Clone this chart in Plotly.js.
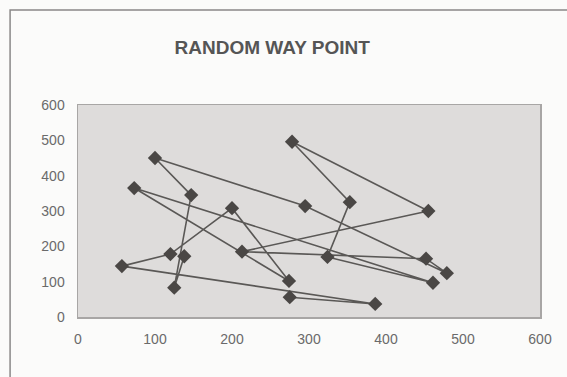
<!DOCTYPE html>
<html>
<head>
<meta charset="utf-8">
<script src="https://cdn.plot.ly/plotly-3.0.1.min.js"></script>
<style>
html,body{margin:0;padding:0;background:#fbfbfa;}
#chart{width:567px;height:377px;}
</style>
</head>
<body>
<div id="chart"></div>
<script>
// Random way point path (x, y) in visiting order
var wayX = [138, 125, 147, 100, 295, 479, 452, 213, 455, 278, 353, 324, 461, 73, 274, 200, 120, 57, 386, 275];
var wayY = [172, 83, 345, 450, 314, 124, 165, 185, 300, 496, 325, 170, 97, 365, 102, 308, 178, 144, 37, 56];
var tickVals = [0, 100, 200, 300, 400, 500, 600];
var chartTitle = "RANDOM WAY POINT";

var trace = {
  x: wayX,
  y: wayY,
  type: 'scatter',
  mode: 'lines+markers',
  line: {color: '#5a5856', width: 1.6},
  marker: {symbol: 'diamond', size: 11, color: '#4a4745'},
  hoverinfo: 'x+y',
  showlegend: false
};

var axisFont = {family: 'Liberation Sans, Arial, sans-serif', size: 14, color: '#6a6a6a'};

var layout = {
  width: 567,
  height: 377,
  margin: {l: 78, r: 27, t: 105, b: 60},
  paper_bgcolor: '#fbfbfa',
  plot_bgcolor: '#dedcdb',
  title: {
    text: chartTitle,
    font: {family: 'Liberation Sans, Arial, sans-serif', size: 19, color: '#555555', weight: 'bold'},
    xref: 'container', x: 0.48, xanchor: 'center',
    yref: 'container', y: 0.875, yanchor: 'middle'
  },
  xaxis: {
    range: [0, 600],
    tickvals: tickVals,
    ticktext: tickVals.map(String),
    showgrid: false,
    zeroline: false,
    showline: true,
    mirror: true,
    linecolor: '#a8a6a5',
    linewidth: 1.5,
    ticks: 'outside',
    ticklen: 9,
    tickcolor: 'rgba(0,0,0,0)',
    tickfont: axisFont
  },
  yaxis: {
    range: [0, 600],
    tickvals: tickVals,
    ticktext: tickVals.map(String),
    showgrid: false,
    zeroline: false,
    showline: true,
    mirror: true,
    linecolor: '#a8a6a5',
    linewidth: 1.5,
    ticks: 'outside',
    ticklen: 9,
    tickcolor: 'rgba(0,0,0,0)',
    tickfont: axisFont
  },
  shapes: [{
    type: 'rect', xref: 'paper', yref: 'paper',
    x0: -0.147, x1: 1.08, y0: -0.32, y1: 1.448,
    line: {color: '#8a8888', width: 1.5},
    fillcolor: 'rgba(0,0,0,0)',
    layer: 'below'
  }]
};

Plotly.newPlot('chart', [trace], layout, {displayModeBar: false, staticPlot: true});
</script>
</body>
</html>
